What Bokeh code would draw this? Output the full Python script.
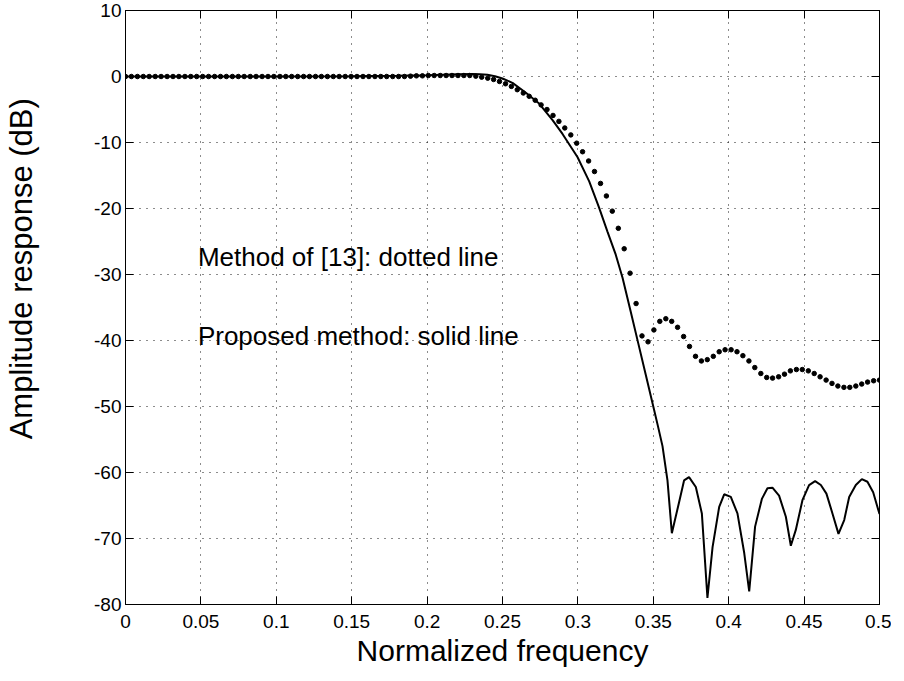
from bokeh.plotting import figure
from bokeh.models import FixedTicker, LinearAxis, Range1d
from bokeh.core.properties import value
from bokeh.embed import file_html
from bokeh.resources import INLINE

# ---- data ----
x_ticks = [0, 0.05, 0.1, 0.15, 0.2, 0.25, 0.3, 0.35, 0.4, 0.45, 0.5]
x_tick_labels = ["0", "0.05", "0.1", "0.15", "0.2", "0.25", "0.3", "0.35", "0.4", "0.45", "0.5"]
y_ticks = [-80, -70, -60, -50, -40, -30, -20, -10, 0, 10]
y_tick_labels = ["-80", "-70", "-60", "-50", "-40", "-30", "-20", "-10", "0", "10"]

# Proposed method (solid line)
solid_freq = [0.0, 0.05, 0.10, 0.15, 0.18, 0.20, 0.21, 0.22, 0.23, 0.235, 0.24, 0.245, 0.25,
              0.2566, 0.2655, 0.2743, 0.2832, 0.2898, 0.2997, 0.3075, 0.3141, 0.3196, 0.3251,
              0.3296, 0.3350, 0.3400, 0.3450, 0.3500, 0.3530, 0.3561, 0.3594, 0.3623, 0.3671,
              0.3704, 0.3737, 0.3782, 0.3822, 0.3859, 0.3893, 0.3937, 0.3970, 0.4014, 0.4058,
              0.4103, 0.4136, 0.4175, 0.4220, 0.4257, 0.4290, 0.4334, 0.4379, 0.4412, 0.4445,
              0.4489, 0.4533, 0.4573, 0.4611, 0.4648, 0.4688, 0.4728, 0.4766, 0.4799, 0.4843,
              0.4883, 0.4920, 0.4958, 0.5000]
solid_db = [0.0, 0.0, 0.0, 0.02, 0.1, 0.2, 0.28, 0.35, 0.38, 0.35, 0.25, 0.05, -0.3,
            -0.96, -2.47, -4.1, -6.6, -8.7, -12.2, -15.9, -19.9, -23.5, -27.0,
            -30.5, -35.6, -40.4, -45.2, -50.0, -52.9, -56.0, -61.2, -69.2, -64.5,
            -61.2, -60.7, -62.2, -66.2, -79.0, -71.3, -65.2, -63.3, -63.7, -66.2,
            -72.2, -78.0, -68.2, -64.0, -62.4, -62.3, -63.5, -66.7, -71.1, -68.7,
            -64.2, -61.9, -61.3, -61.9, -63.2, -66.2, -69.3, -67.2, -63.7, -61.9,
            -61.0, -61.4, -63.0, -66.3]

# Method of [13] (dotted line)
dotted_freq = [0.0000, 0.0039, 0.0079, 0.0118, 0.0157, 0.0197, 0.0236, 0.0276, 0.0315, 0.0354,
               0.0394, 0.0433, 0.0472, 0.0512, 0.0551, 0.0591, 0.0630, 0.0669, 0.0709, 0.0748,
               0.0787, 0.0827, 0.0866, 0.0906, 0.0945, 0.0984, 0.1024, 0.1063, 0.1102, 0.1142,
               0.1181, 0.1220, 0.1260, 0.1299, 0.1339, 0.1378, 0.1417, 0.1457, 0.1496, 0.1535,
               0.1575, 0.1614, 0.1654, 0.1693, 0.1732, 0.1772, 0.1811, 0.1850, 0.1890, 0.1929,
               0.1969, 0.2008, 0.2047, 0.2087, 0.2126, 0.2165, 0.2205, 0.2244, 0.2283, 0.2323,
               0.2362, 0.2402, 0.2441, 0.2480, 0.2520, 0.2559, 0.2598, 0.2638, 0.2677, 0.2717,
               0.2756, 0.2795, 0.2835, 0.2874, 0.2913, 0.2953, 0.2992, 0.3031, 0.3071, 0.3110,
               0.3150, 0.3189, 0.3228, 0.3268, 0.3307, 0.3346, 0.3386, 0.3425, 0.3465, 0.3504,
               0.3543, 0.3583, 0.3622, 0.3661, 0.3701, 0.3740, 0.3780, 0.3819, 0.3858, 0.3898,
               0.3937, 0.3976, 0.4016, 0.4055, 0.4094, 0.4134, 0.4173, 0.4213, 0.4252, 0.4291,
               0.4331, 0.4370, 0.4409, 0.4449, 0.4488, 0.4528, 0.4567, 0.4606, 0.4646, 0.4685,
               0.4724, 0.4764, 0.4803, 0.4843, 0.4882, 0.4921, 0.4961, 0.5000]
dotted_db = [0.0, 0.0, 0.0, 0.0, 0.0, 0.0, 0.0, 0.0, 0.0, 0.0,
             0.0, 0.0, 0.0, 0.0, 0.0, 0.0, 0.0, 0.0, 0.0, 0.0,
             0.0, 0.0, 0.0, 0.0, 0.0, 0.0, 0.0, 0.0, 0.0, 0.0,
             0.0, 0.0, 0.0, 0.0, 0.0, 0.0, 0.0, 0.0, 0.0, 0.0,
             0.0, 0.0, 0.0, 0.0, 0.0, 0.0, 0.0, 0.0, 0.05, 0.1,
             0.1, 0.15, 0.15, 0.15, 0.15, 0.15, 0.15, 0.15, 0.15, 0.05,
             -0.1, -0.25, -0.45, -0.75, -1.1, -1.5, -2.0, -2.5, -3.0, -3.6,
             -4.3, -5.0, -5.9, -6.8, -7.8, -8.85, -10.1, -11.4, -12.8, -14.4,
             -16.2, -18.1, -20.4, -23.0, -26.1, -29.8, -34.4, -39.3, -40.2, -38.4,
             -37.1, -36.7, -37.1, -38.0, -39.4, -40.9, -42.4, -43.1, -42.9, -42.4,
             -41.7, -41.4, -41.4, -41.7, -42.3, -43.1, -44.1, -45.0, -45.6, -45.7,
             -45.5, -45.1, -44.6, -44.4, -44.4, -44.6, -45.0, -45.5, -46.0, -46.5,
             -46.9, -47.1, -47.1, -46.9, -46.6, -46.3, -46.1, -46.0]

note_x = [0.048, 0.048]
note_y = [-27.3, -39.3]
note_text = ["Method of [13]: dotted line", "Proposed method: solid line"]

x_title = "Normalized frequency"
y_title = "Amplitude response (dB)"

FONT = "Liberation Sans"

p = figure(frame_width=754, frame_height=594,
           x_range=Range1d(0, 0.5), y_range=Range1d(-80, 10),
           output_backend="svg", toolbar_location=None,
           min_border_left=125, min_border_right=12,
           min_border_top=10, min_border_bottom=4,
           background_fill_color="white", border_fill_color="white")

p.outline_line_color = "black"
p.outline_line_width = 1

def style_axis(ax, ticks, labels, show_labels=True):
    ax.ticker = FixedTicker(ticks=ticks)
    ax.major_label_overrides = {t: l for t, l in zip(ticks, labels)}
    ax.axis_line_color = "black"
    ax.major_tick_line_color = "black"
    ax.major_tick_in = 8
    ax.major_tick_out = 0
    ax.minor_tick_line_color = None
    ax.major_label_text_font = FONT
    ax.major_label_text_color = "black"
    if show_labels:
        ax.major_label_text_font_size = "19px"
    else:
        ax.major_label_text_font_size = "0px"
        ax.major_label_standoff = 0

xa = p.xaxis[0]
ya = p.yaxis[0]
style_axis(xa, x_ticks, x_tick_labels)
style_axis(ya, y_ticks, y_tick_labels)
xa.major_label_standoff = 10
ya.major_label_standoff = 4

xa.axis_label = x_title
xa.axis_label_text_font = FONT
xa.axis_label_text_font_size = "30px"
xa.axis_label_text_font_style = "normal"
xa.axis_label_text_color = "black"
xa.axis_label_standoff = 3

# the reference's y title sits above the axis centre: pad its start with
# non-breaking spaces so the visible words move up
ya.axis_label = "\u00a0" * 9 + y_title
ya.axis_label_text_font = FONT
ya.axis_label_text_font_size = "31px"
ya.axis_label_text_font_style = "normal"
ya.axis_label_text_color = "black"
ya.axis_label_standoff = 52

top_ax = LinearAxis()
style_axis(top_ax, x_ticks, [""] * len(x_ticks), show_labels=False)
p.add_layout(top_ax, "above")
right_ax = LinearAxis()
style_axis(right_ax, y_ticks, [""] * len(y_ticks), show_labels=False)
p.add_layout(right_ax, "right")

p.xgrid.ticker = FixedTicker(ticks=x_ticks)
p.ygrid.ticker = FixedTicker(ticks=y_ticks)
p.grid.grid_line_color = "black"
p.grid.grid_line_dash = "1 6"
p.grid.grid_line_width = 1
p.grid.grid_line_alpha = 0.9

p.line(solid_freq, solid_db, line_color="black", line_width=2)
p.scatter(dotted_freq, dotted_db, size=4.5, color="black")

p.text(x=note_x, y=note_y, text=note_text, text_font=value(FONT),
       text_font_size="26px", text_baseline="alphabetic", text_align="left",
       text_color="black")

open("out.html", "w").write(file_html(p, INLINE))
